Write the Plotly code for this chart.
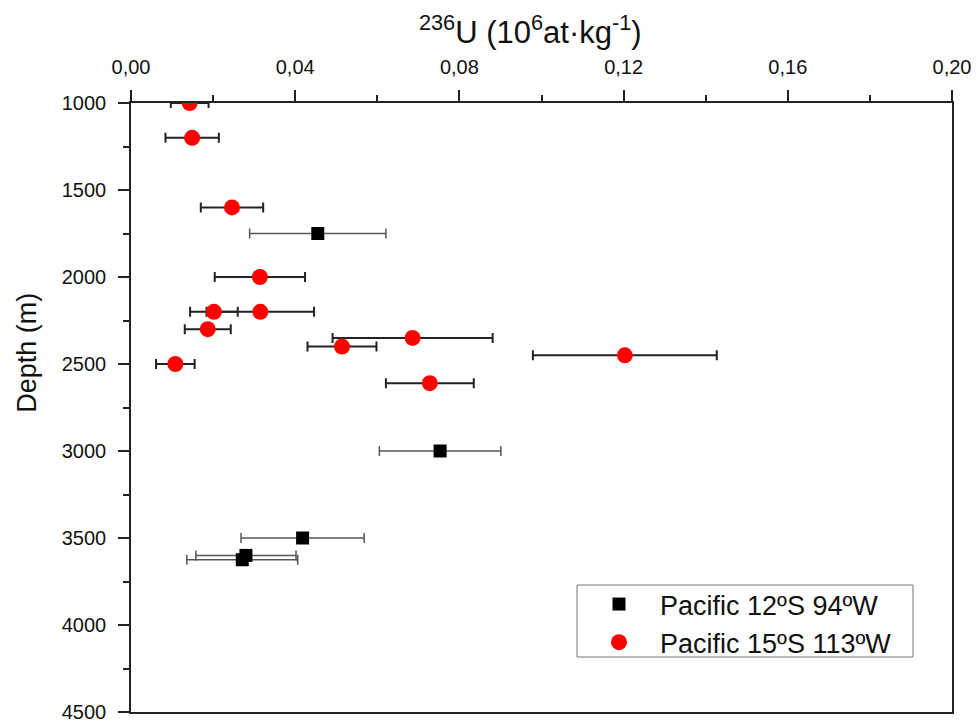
import plotly.graph_objects as go

# Pacific 12ºS 94ºW (black squares)
sq_depth = [1750, 3000, 3500, 3600, 3625]
sq_u236 = [0.0455, 0.0753, 0.0418, 0.0280, 0.0271]
sq_err = [0.0166, 0.0148, 0.0150, 0.0122, 0.0135]

# Pacific 15ºS 113ºW (red circles)
ci_depth = [1000, 1200, 1600, 2000, 2200, 2200, 2300, 2500, 2350, 2400, 2450, 2610]
ci_u236 = [0.0143, 0.0149, 0.0246, 0.0314, 0.0202, 0.0315, 0.0187, 0.0108, 0.0686, 0.0514, 0.1203, 0.0728]
ci_err = [0.0046, 0.0065, 0.0076, 0.0110, 0.0058, 0.0131, 0.0056, 0.0047, 0.0195, 0.0084, 0.0224, 0.0107]

x_ticks = [0.0, 0.04, 0.08, 0.12, 0.16, 0.20]
x_ticktext = ["0,00", "0,04", "0,08", "0,12", "0,16", "0,20"]
y_ticks = [1000, 1500, 2000, 2500, 3000, 3500, 4000, 4500]

FONT = "Liberation Sans, Arial, sans-serif"

fig = go.Figure()
fig.add_trace(go.Scatter(
    x=sq_u236, y=sq_depth, mode="markers", name="Pacific 12ºS 94ºW",
    marker=dict(symbol="square", size=13, color="black"),
    error_x=dict(type="data", array=sq_err, visible=True, color="#555555",
                 thickness=1.5, width=5),
))
fig.add_trace(go.Scatter(
    x=ci_u236, y=ci_depth, mode="markers", name="Pacific 15ºS 113ºW",
    marker=dict(symbol="circle", size=16, color="#ff0000"),
    error_x=dict(type="data", array=ci_err, visible=True, color="#222222",
                 thickness=2, width=5),
))

fig.update_layout(
    width=978, height=727,
    margin=dict(l=131, r=26, t=103, b=15, autoexpand=False),
    paper_bgcolor="white", plot_bgcolor="white",
    font=dict(family=FONT, color="#111111", size=20),
    showlegend=True,
    legend=dict(
        x=(577 - 131) / 821, y=(712 - 579) / 609, xanchor="left", yanchor="top",
        bordercolor="rgba(0,0,0,0)", borderwidth=1, bgcolor="rgba(0,0,0,0)",
        font=dict(size=27, family=FONT, color="#111111"),
        itemwidth=72, tracegroupgap=0,
    ),
    shapes=[
        dict(type="rect", xref="paper", yref="paper",
             x0=(577 - 131) / 821, x1=(913 - 131) / 821,
             y0=(712 - 657) / 609, y1=(712 - 585) / 609,
             line=dict(color="#777777", width=1), fillcolor="white", layer="below"),
    ],
    xaxis=dict(
        side="top", range=[0, 0.2], tickvals=x_ticks, ticktext=x_ticktext,
        ticks="outside", ticklen=11, tickwidth=1.5, tickcolor="#222222",
        showline=True, linewidth=1.5, linecolor="#222222", mirror=True,
        showgrid=False, zeroline=False, ticklabelstandoff=8, automargin=False,
        tickfont=dict(size=20, family=FONT),
        minor=dict(dtick=0.02, tick0=0, ticks="outside", ticklen=6,
                   tickwidth=1.5, tickcolor="#222222", showgrid=False),
    ),
    yaxis=dict(
        range=[4500, 1000], tickvals=y_ticks,
        ticks="outside", ticklen=11, tickwidth=1.5, tickcolor="#222222",
        showline=True, linewidth=1.5, linecolor="#222222", mirror=True,
        showgrid=False, zeroline=False, ticklabelstandoff=8, automargin=False,
        tickfont=dict(size=20, family=FONT),
        minor=dict(dtick=250, tick0=1000, ticks="outside", ticklen=6,
                   tickwidth=1.5, tickcolor="#222222", showgrid=False),
    ),
    annotations=[
        dict(text="<sup>236</sup>U (10<sup>6</sup>at·kg<sup>-1</sup>)",
             xref="paper", yref="paper", x=(530 - 131) / 821, y=1.0, yshift=73,
             xanchor="center", yanchor="middle", showarrow=False,
             font=dict(size=31, family=FONT, color="#111111")),
        dict(text="Depth (m)", xref="paper", yref="paper", x=0, xshift=-104,
             y=0.59, xanchor="center", yanchor="middle", textangle=-90,
             showarrow=False, font=dict(size=27, family=FONT, color="#111111")),
    ],
)

fig.write_html(
    "out.html",
    config={"displayModeBar": False},
    post_script="document.body.style.margin='0';document.body.style.overflow='hidden';",
)
